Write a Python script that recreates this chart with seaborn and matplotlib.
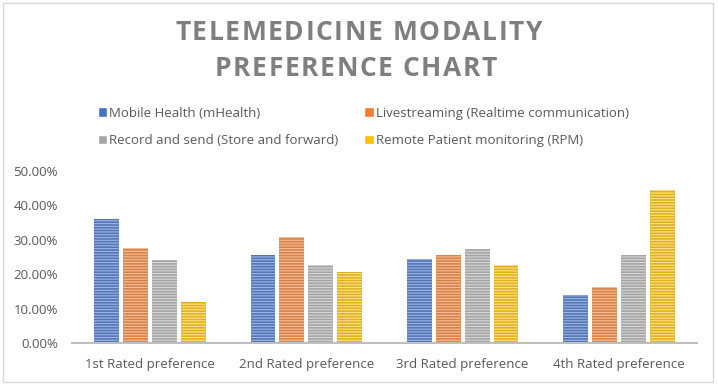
import pandas as pd
import seaborn as sns
import matplotlib.pyplot as plt
from matplotlib.patches import Rectangle
from matplotlib.ticker import PercentFormatter

# data (share of respondents)
preferences = ["1st Rated preference", "2nd Rated preference",
               "3rd Rated preference", "4th Rated preference"]
modalities = ["Mobile Health (mHealth)", "Livestreaming (Realtime communication)",
              "Record and send (Store and forward)", "Remote Patient monitoring (RPM)"]
mhealth = [0.361, 0.256, 0.245, 0.139]
livestreaming = [0.276, 0.307, 0.255, 0.162]
record_send = [0.240, 0.227, 0.274, 0.257]
rpm = [0.120, 0.206, 0.226, 0.444]

colors = ["#4472C4", "#ED7D31", "#A5A5A5", "#FFC000"]
hatch_colors = ["#9DB5E6", "#F7BE98", "#D6D6D6", "#FFE38A"]

rows = []
for name, vals in zip(modalities, [mhealth, livestreaming, record_send, rpm]):
    for p, v in zip(preferences, vals):
        rows.append({"preference": p, "modality": name, "share": v})
df = pd.DataFrame(rows)

sns.set_theme(style="white")
plt.rcParams["font.family"] = ["Open Sans", "DejaVu Sans"]
plt.rcParams["hatch.linewidth"] = 0.8

W, H = 718, 386
fig = plt.figure(figsize=(W / 100, H / 100), dpi=100)
ax = fig.add_axes([72 / W, 43 / H, 625 / W, 172 / H])

sns.barplot(data=df, x="preference", y="share", hue="modality",
            hue_order=modalities, palette=colors, width=0.74, gap=0.14,
            ax=ax, legend=False)

# excel style horizontal stripe fill
for i, cont in enumerate(ax.containers):
    for bar in cont:
        bar.set_hatch("------")
        bar.set_edgecolor(hatch_colors[i])
        bar.set_linewidth(0)

ax.set_ylim(0, 0.5)
ax.set_yticks([0, 0.1, 0.2, 0.3, 0.4, 0.5])
ax.yaxis.set_major_formatter(PercentFormatter(1.0, decimals=2))
ax.set_xlabel("")
ax.set_ylabel("")
ax.tick_params(axis="both", length=0, labelsize=9.5, labelcolor="#595959")
ax.tick_params(axis="y", pad=10)
ax.tick_params(axis="x", pad=11)
for s in ["top", "right", "left"]:
    ax.spines[s].set_visible(False)
ax.spines["bottom"].set_color("#BFBFBF")
ax.spines["bottom"].set_linewidth(1.5)


def spaced_title(text, y_px, x0_px, x1_px, size=19):
    # letter-spaced title: place each glyph so the line spans x0..x1
    renderer = fig.canvas.get_renderer()
    kw = dict(fontsize=size, fontweight="bold", color="#7F7F7F", va="center")

    def width(s):
        t = fig.text(0, 0, s, **kw)
        w = t.get_window_extent(renderer).width
        t.remove()
        return w

    full = width(text)
    track = (x1_px - x0_px - full) / (len(text) - 1)
    for i, ch in enumerate(text):
        if ch == " ":
            continue
        left = width(text[:i + 1]) - width(ch) + i * track
        fig.text((x0_px + left) / W, 1 - y_px / H, ch, ha="left", **kw)


spaced_title("TELEMEDICINE MODALITY", 33, 175, 542)
spaced_title("PREFERENCE CHART", 68.5, 215, 497)

# legend, two columns
handles = [Rectangle((0, 0), 1, 1, facecolor=c) for c in colors]
order = [0, 2, 1, 3]
fig.legend([handles[i] for i in order], [modalities[i] for i in order],
           ncol=2, loc="center left", bbox_to_anchor=(91 / W, 1 - 127 / H),
           frameon=False, fontsize=9.5, labelcolor="#595959", borderpad=0,
           handlelength=0.75, handleheight=0.75, handletextpad=0.15,
           columnspacing=1.9, labelspacing=1.1)

fig.patches.append(Rectangle((3 / W, 4 / H), 710 / W, 379 / H,
                             transform=fig.transFigure, fill=False,
                             edgecolor="#D9D9D9", linewidth=1))

fig.savefig("out.png", dpi=100)
